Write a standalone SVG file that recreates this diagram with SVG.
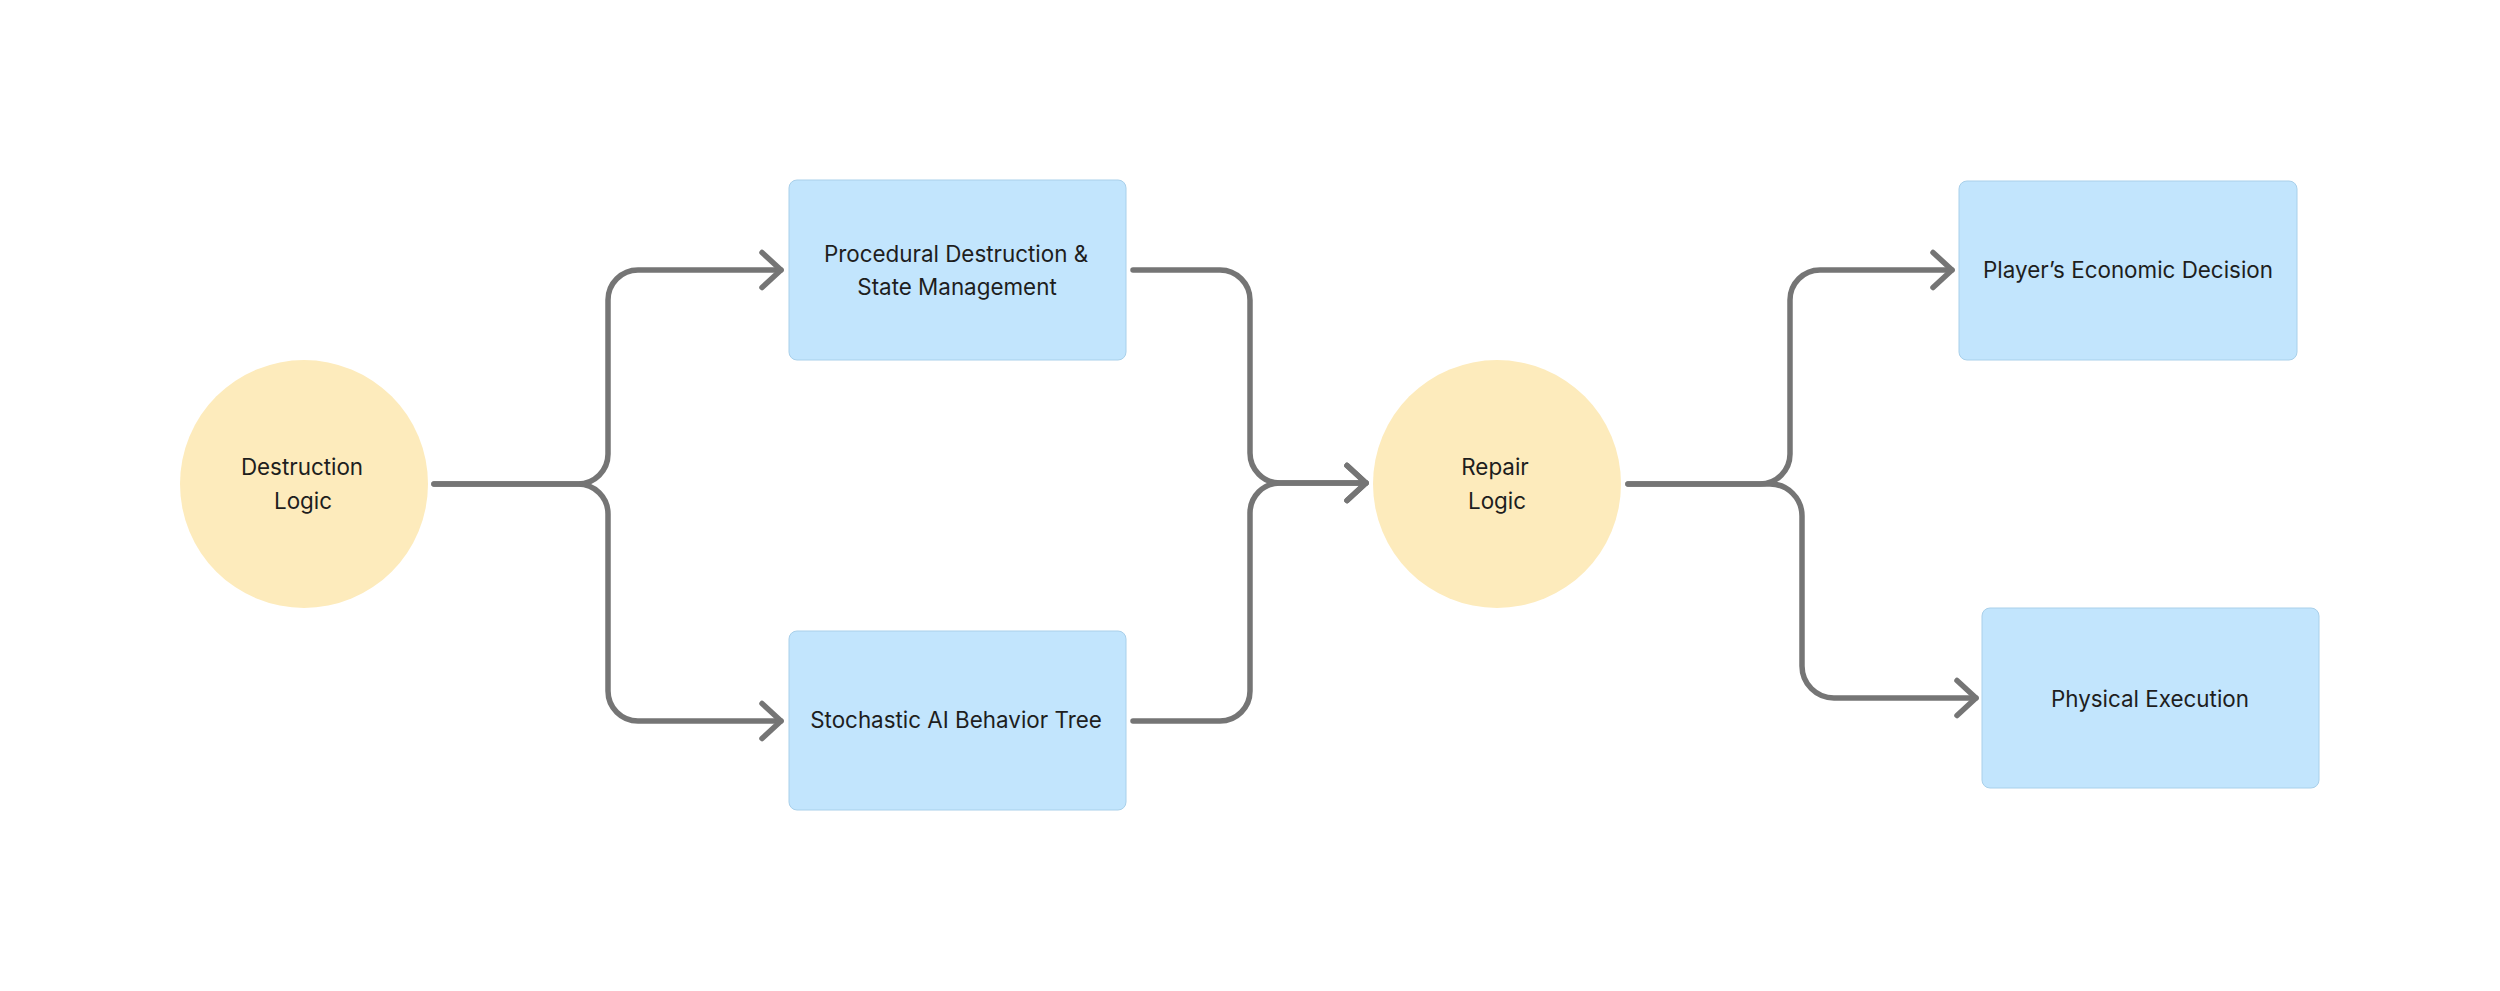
<svg xmlns="http://www.w3.org/2000/svg" width="2500" height="991" viewBox="0 0 2500 991">
  <defs>
    <style>
      .box { fill: #C2E5FD; stroke: #A9D0EA; stroke-width: 1; }
      .circ { fill: #FDEBBC; }
      .lbl { font-family: Inter, "Liberation Sans", sans-serif; font-size: 22.4px; fill: #1E1E1E; text-anchor: middle; }
      .edge { fill: none; stroke: #757575; stroke-width: 5.5; stroke-linecap: round; stroke-linejoin: round; marker-end: url(#arr); }
    </style>
    <marker id="arr" markerUnits="userSpaceOnUse" viewBox="-30 -30 60 60" markerWidth="60" markerHeight="60" refX="0" refY="0" orient="auto" overflow="visible">
      <path d="M -19 -17.5 L 0 0 L -19 17.5" fill="none" stroke="#757575" stroke-width="5.5" stroke-linecap="round" stroke-linejoin="round"/>
    </marker>
  </defs>
  <rect width="2500" height="991" fill="#FFFFFF"/>

  <g id="connectors">
    <path class="edge" d="M 434 484 H 578 A 30 30 0 0 0 608 454 V 300 A 30 30 0 0 1 638 270 H 781"/>
    <path class="edge" d="M 434 484 H 578 A 30 30 0 0 1 608 514 V 691 A 30 30 0 0 0 638 721 H 781"/>
    <path class="edge" d="M 1133 270 H 1220 A 30 30 0 0 1 1250 300 V 453 A 30 30 0 0 0 1280 483 H 1366"/>
    <path class="edge" d="M 1133 721 H 1220 A 30 30 0 0 0 1250 691 V 513 A 30 30 0 0 1 1280 483 H 1366"/>
    <path class="edge" d="M 1628 484 H 1760 A 30 30 0 0 0 1790 454 V 300 A 30 30 0 0 1 1820 270 H 1952"/>
    <path class="edge" d="M 1628 484 H 1770 A 32 32 0 0 1 1802 516 V 666 A 32 32 0 0 0 1834 698 H 1976"/>
  </g>

  <g id="destruction-logic">
    <circle class="circ" cx="304" cy="484" r="124"/>
    <text class="lbl" x="302" y="475">Destruction</text>
    <text class="lbl" x="303" y="509">Logic</text>
  </g>

  <g id="procedural-destruction">
    <rect class="box" x="789" y="180" width="337" height="180" rx="8"/>
    <text class="lbl" x="956" y="262">Procedural Destruction &amp;</text>
    <text class="lbl" x="957" y="295">State Management</text>
  </g>

  <g id="stochastic-ai">
    <rect class="box" x="789" y="631" width="337" height="179" rx="8"/>
    <text class="lbl" x="956" y="728">Stochastic AI Behavior Tree</text>
  </g>

  <g id="repair-logic">
    <circle class="circ" cx="1497" cy="484" r="124"/>
    <text class="lbl" x="1495" y="475">Repair</text>
    <text class="lbl" x="1497" y="509">Logic</text>
  </g>

  <g id="players-economic-decision">
    <rect class="box" x="1959" y="181" width="338" height="179" rx="8"/>
    <text class="lbl" x="2128" y="278">Player’s Economic Decision</text>
  </g>

  <g id="physical-execution">
    <rect class="box" x="1982" y="608" width="337" height="180" rx="8"/>
    <text class="lbl" x="2150" y="707">Physical Execution</text>
  </g>
</svg>
